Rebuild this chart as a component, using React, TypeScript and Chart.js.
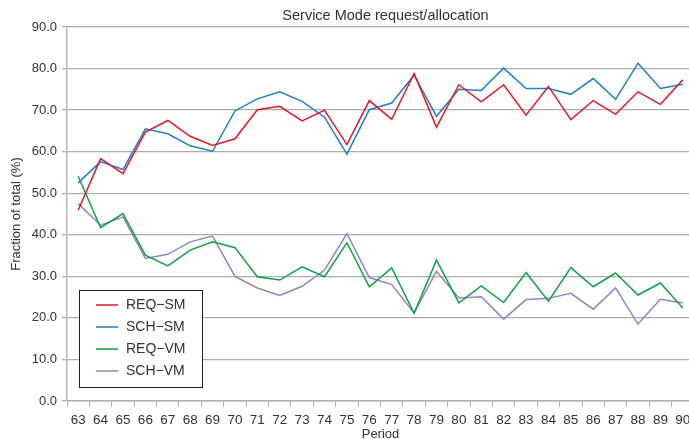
import React, { useEffect, useRef } from "react";
import { Chart, registerables } from "chart.js";

Chart.register(...registerables);

const periods = ["63","64","65","66","67","68","69","70","71","72","73","74","75","76","77","78","79","80","81","82","83","84","85","86","87","88","89","90"];
const reqSM = [45.9,58.3,54.7,64.7,67.5,63.7,61.5,63.1,70.1,70.9,67.4,70.0,61.7,72.3,67.8,78.8,65.9,76.1,72.0,76.1,68.8,75.7,67.7,72.3,69.0,74.4,71.4,77.3];
const schSM = [52.5,57.6,55.7,65.5,64.3,61.4,60.1,69.8,72.7,74.4,72.1,68.3,59.4,70.1,71.7,78.4,68.5,75.0,74.7,80.1,75.2,75.2,73.8,77.6,72.6,81.3,75.2,76.2];
const reqVM = [54.1,41.7,45.1,35.1,32.5,36.3,38.3,36.9,29.9,29.1,32.3,29.9,38.1,27.5,32.0,21.1,33.9,23.6,27.7,23.7,30.9,24.0,32.1,27.5,30.8,25.5,28.4,22.4];
const schVM = [47.5,42.3,44.3,34.3,35.3,38.3,39.7,30.0,27.2,25.4,27.6,31.5,40.3,29.7,28.0,21.2,31.2,24.8,25.1,19.7,24.4,24.7,25.9,22.1,27.2,18.5,24.5,23.6];
const seriesNames = ["REQ\u2212SM", "SCH\u2212SM", "REQ\u2212VM", "SCH\u2212VM"];
const yTicks = [0, 10, 20, 30, 40, 50, 60, 70, 80, 90];
const chartTitle = "Service Mode request/allocation";

const FONT = "'Liberation Sans', Arial, Helvetica, sans-serif";
const TEXT = "#333333";

const areaTitle = {
  id: "areaTitle",
  afterDraw(chart: any) {
    const { ctx, chartArea } = chart;
    ctx.save();
    ctx.font = `14.5px ${FONT}`;
    ctx.fillStyle = TEXT;
    ctx.textAlign = "center";
    ctx.textBaseline = "middle";
    ctx.fillText(chartTitle, (chartArea.left + chartArea.right) / 2 + 5, 15.5);
    ctx.restore();
  },
};

const boxLegend = {
  id: "boxLegend",
  afterDraw(chart: any) {
    const { ctx, chartArea } = chart;
    const x0 = chartArea.left + 12;
    const y1 = chartArea.bottom - 14;
    const w = 123;
    const h = 97;
    const y0 = y1 - h;
    ctx.save();
    ctx.fillStyle = "#ffffff";
    ctx.fillRect(x0, y0, w, h);
    ctx.strokeStyle = "#222222";
    ctx.lineWidth = 1;
    ctx.strokeRect(Math.round(x0) + 0.5, Math.round(y0) + 0.5, w, h);
    ctx.font = `14px ${FONT}`;
    ctx.textBaseline = "middle";
    ctx.textAlign = "left";
    chart.data.datasets.forEach((ds: any, i: number) => {
      const y = y0 + 15 + i * 22;
      ctx.strokeStyle = ds.borderColor;
      ctx.lineWidth = 1.5;
      ctx.beginPath();
      ctx.moveTo(x0 + 17, y);
      ctx.lineTo(x0 + 39, y);
      ctx.stroke();
      ctx.fillStyle = TEXT;
      ctx.fillText(ds.label, x0 + 47, y);
    });
    ctx.restore();
  },
};

export default function App() {
  const ref = useRef<HTMLCanvasElement | null>(null);
  useEffect(() => {
    if (!ref.current) return;
    const colors = ["#e3162b", "#1f7fc6", "#10a048", "#9a80c2"];
    const values = [reqSM, schSM, reqVM, schVM];
    const chart = new Chart(ref.current, {
      type: "line",
      data: {
        labels: periods,
        datasets: values.map((v, i) => ({
          label: seriesNames[i],
          data: v,
          borderColor: colors[i],
          backgroundColor: colors[i],
          borderWidth: 1.5,
          pointRadius: 0,
          tension: 0,
          fill: false,
        })),
      },
      options: {
        responsive: false,
        animation: false,
        devicePixelRatio: 1,
        layout: { padding: { left: 0, right: 6, top: 27, bottom: 0 } },
        plugins: {
          legend: { display: false },
          tooltip: { enabled: false },
          title: { display: false },
        },
        scales: {
          x: {
            type: "category",
            offset: true,
            grid: {
              display: true,
              drawOnChartArea: false,
              drawTicks: true,
              tickLength: 6,
              offset: true,
              color: "#b0b0b0",
            },
            border: { display: true, color: "#b0b0b0", width: 1.5 },
            ticks: {
              color: TEXT,
              font: { family: FONT, size: 13.5 },
              maxRotation: 0,
              autoSkip: false,
              padding: 5,
            },
            title: {
              display: true,
              text: "Period",
              color: TEXT,
              font: { family: FONT, size: 13 },
              padding: { top: 4, bottom: 4 },
            },
            afterFit(scale: any) {
              scale.height = 45;
            },
          },
          y: {
            min: 0,
            max: 90,
            afterBuildTicks(scale: any) {
              scale.ticks = yTicks.map((v) => ({ value: v }));
            },
            grid: {
              color: "#adadad",
              lineWidth: 1.3,
              drawTicks: true,
              tickLength: 5,
            },
            border: { display: true, color: "#b8b8b8", width: 1.5 },
            ticks: {
              color: TEXT,
              font: { family: FONT, size: 13 },
              padding: 5,
              callback: (v: any) => Number(v).toFixed(1),
            },
            title: {
              display: true,
              text: "Fraction of total (%)",
              color: TEXT,
              font: { family: FONT, size: 13 },
              padding: { top: 9, bottom: 4 },
            },
            afterFit(scale: any) {
              scale.width = 67;
            },
          },
        },
      },
      plugins: [areaTitle, boxLegend],
    });
    return () => chart.destroy();
  }, []);
  return (
    <div style={{ position: "fixed", left: 0, top: 0, width: 689, height: 439, overflow: "hidden", background: "#ffffff" }}>
      <canvas ref={ref} width={700} height={446} style={{ display: "block", width: 700, height: 446 }} />
    </div>
  );
}
